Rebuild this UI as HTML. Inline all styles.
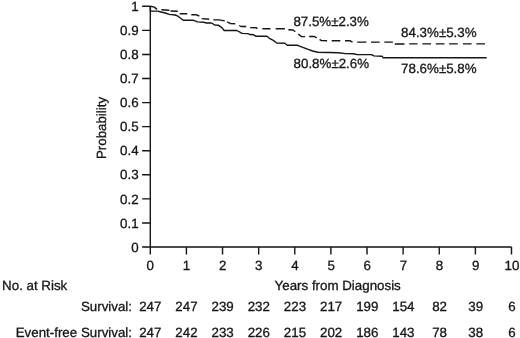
<!DOCTYPE html>
<html><head><meta charset="utf-8"><title>Survival</title>
<style>
html,body{margin:0;padding:0;background:#fff;}
svg{display:block;will-change:transform;}
text{font-family:"Liberation Sans",Arial,Helvetica,sans-serif;font-size:13.33px;fill:#151515;stroke:#151515;stroke-width:0.3px;text-rendering:geometricPrecision;}
</style></head><body>
<svg width="520" height="338" viewBox="0 0 520 338">
<defs><filter id="soft" x="0" y="0" width="520" height="338" filterUnits="userSpaceOnUse"><feGaussianBlur stdDeviation="0.35"/></filter></defs>
<rect width="520" height="338" fill="#fff"/>
<g filter="url(#soft)">
<path d="M150.3,6.30 V247.0 H511.50" fill="none" stroke="#151515" stroke-width="1.4"/>
<path d="M142.1,247.00 H150.3 M142.1,222.93 H150.3 M142.1,198.86 H150.3 M142.1,174.79 H150.3 M142.1,150.72 H150.3 M142.1,126.65 H150.3 M142.1,102.58 H150.3 M142.1,78.51 H150.3 M142.1,54.44 H150.3 M142.1,30.37 H150.3 M142.1,6.30 H150.3 M150.30,247.0 V254.4 M186.42,247.0 V254.4 M222.54,247.0 V254.4 M258.66,247.0 V254.4 M294.78,247.0 V254.4 M330.90,247.0 V254.4 M367.02,247.0 V254.4 M403.14,247.0 V254.4 M439.26,247.0 V254.4 M475.38,247.0 V254.4 M511.50,247.0 V254.4" fill="none" stroke="#151515" stroke-width="1.4"/>
<polyline points="150.4,6.3 150.4,11.1 157.8,11.1 161,12 165.3,13 169.3,14.4 175.1,15 178,16.2 183.2,20.2 193,20.2 197.6,21.9 203.4,22.2 206.3,23 211.5,23 215,25.1 218.5,25.3 221.9,27.6 224.2,30.5 236.9,30.5 242.1,33.4 247.9,33.6 249.6,34.5 253.7,34.8 256,36.3 267,36.3 269.9,38.7 273.3,40.4 276.8,43 284.9,43.3 287.2,45.2 297.6,45.3 302.8,47.3 307.5,49.2 312.7,51 317.8,52.3 338.6,52.7 345.5,53.6 353.6,53.8 357.1,54.6 371.6,54.6 373.9,55.9 382,56.2 383.1,57.7 486.7,57.7" fill="none" stroke="#151515" stroke-width="1.4" stroke-linejoin="round"/>
<path d="M150.4,6.3 L154.3,7.1 L157,9.4 M161.3,9.8 L169.3,10.3 M170.5,11 L177.8,11.2 M179.7,13.8 L187.2,13.8 M191.3,14.8 L196.5,14.8 L199.3,16 M201.7,18.6 L209.2,19.2 M213.3,19.9 L219,19.9 L224.8,20.9 M227.1,21.8 L230.6,23.6 L235.2,23.8 M239.2,25.5 L241,26.5 L246.2,26.5 M250.2,27.6 L256.5,27.8 L257.3,28.9 M262.4,28.8 L270.5,28.8 M275.7,28.8 L284.9,28.8 M288.3,29.8 L293,30 L295.3,31.7 M298.2,34 L301.6,36.6 L305.1,36.6 M309.2,36.5 L314.4,36.5 L316.7,37.9 M319.6,39.4 L321.3,40.6 L327.1,40.8 M331.7,40.8 L340.3,40.8 M345,40.8 L350.2,40.8 L352.5,42.2 M357.2,42.1 L366.4,42.1 M371,42.1 L379.7,42.1 M384.3,42.1 L392.9,42.1 M394.8,44 L404.5,44 M409.3,43.9 L417.5,43.9 M422.3,43.9 L431,43.9 M435.8,43.9 L444.5,43.9 M449.1,43.9 L457.8,43.9 M463,43.9 L471.6,43.9 M476.3,43.9 L485,43.9" fill="none" stroke="#151515" stroke-width="1.4" stroke-linejoin="round"/>
<text x="138.6" y="251.70" text-anchor="end">0</text>
<text x="138.6" y="227.63" text-anchor="end">0.1</text>
<text x="138.6" y="203.56" text-anchor="end">0.2</text>
<text x="138.6" y="179.49" text-anchor="end">0.3</text>
<text x="138.6" y="155.42" text-anchor="end">0.4</text>
<text x="138.6" y="131.35" text-anchor="end">0.5</text>
<text x="138.6" y="107.28" text-anchor="end">0.6</text>
<text x="138.6" y="83.21" text-anchor="end">0.7</text>
<text x="138.6" y="59.14" text-anchor="end">0.8</text>
<text x="138.6" y="35.07" text-anchor="end">0.9</text>
<text x="138.6" y="11.00" text-anchor="end">1</text>
<text x="150.30" y="269.6" text-anchor="middle">0</text>
<text x="186.46" y="269.6" text-anchor="middle">1</text>
<text x="222.62" y="269.6" text-anchor="middle">2</text>
<text x="258.78" y="269.6" text-anchor="middle">3</text>
<text x="294.94" y="269.6" text-anchor="middle">4</text>
<text x="331.10" y="269.6" text-anchor="middle">5</text>
<text x="367.26" y="269.6" text-anchor="middle">6</text>
<text x="403.42" y="269.6" text-anchor="middle">7</text>
<text x="439.58" y="269.6" text-anchor="middle">8</text>
<text x="475.74" y="269.6" text-anchor="middle">9</text>
<text x="511.90" y="269.6" text-anchor="middle">10</text>
<text x="150.30" y="310.5" text-anchor="middle">247</text>
<text x="150.30" y="336.5" text-anchor="middle">247</text>
<text x="186.46" y="310.5" text-anchor="middle">247</text>
<text x="186.46" y="336.5" text-anchor="middle">242</text>
<text x="222.62" y="310.5" text-anchor="middle">239</text>
<text x="222.62" y="336.5" text-anchor="middle">233</text>
<text x="258.78" y="310.5" text-anchor="middle">232</text>
<text x="258.78" y="336.5" text-anchor="middle">226</text>
<text x="294.94" y="310.5" text-anchor="middle">223</text>
<text x="294.94" y="336.5" text-anchor="middle">215</text>
<text x="331.10" y="310.5" text-anchor="middle">217</text>
<text x="331.10" y="336.5" text-anchor="middle">202</text>
<text x="367.26" y="310.5" text-anchor="middle">199</text>
<text x="367.26" y="336.5" text-anchor="middle">186</text>
<text x="403.42" y="310.5" text-anchor="middle">154</text>
<text x="403.42" y="336.5" text-anchor="middle">143</text>
<text x="439.58" y="310.5" text-anchor="middle">82</text>
<text x="439.58" y="336.5" text-anchor="middle">78</text>
<text x="475.74" y="310.5" text-anchor="middle">39</text>
<text x="475.74" y="336.5" text-anchor="middle">38</text>
<text x="511.90" y="310.5" text-anchor="middle">6</text>
<text x="511.90" y="336.5" text-anchor="middle">6</text>
<text x="274.6" y="289.6">Years from Diagnosis</text>
<text x="2.1" y="289.7">No. at Risk</text>
<text x="132" y="310.5" text-anchor="end">Survival:</text>
<text x="132" y="336.5" text-anchor="end">Event-free Survival:</text>
<text transform="translate(106.1,128) rotate(-90)" text-anchor="middle">Probability</text>
<text x="293.4" y="25.8">87.5%±2.3%</text>
<text x="293.6" y="67.9">80.8%±2.6%</text>
<text x="401.1" y="37.3">84.3%±5.3%</text>
<text x="401.1" y="72.6">78.6%±5.8%</text>
</g>
</svg>
</body></html>
